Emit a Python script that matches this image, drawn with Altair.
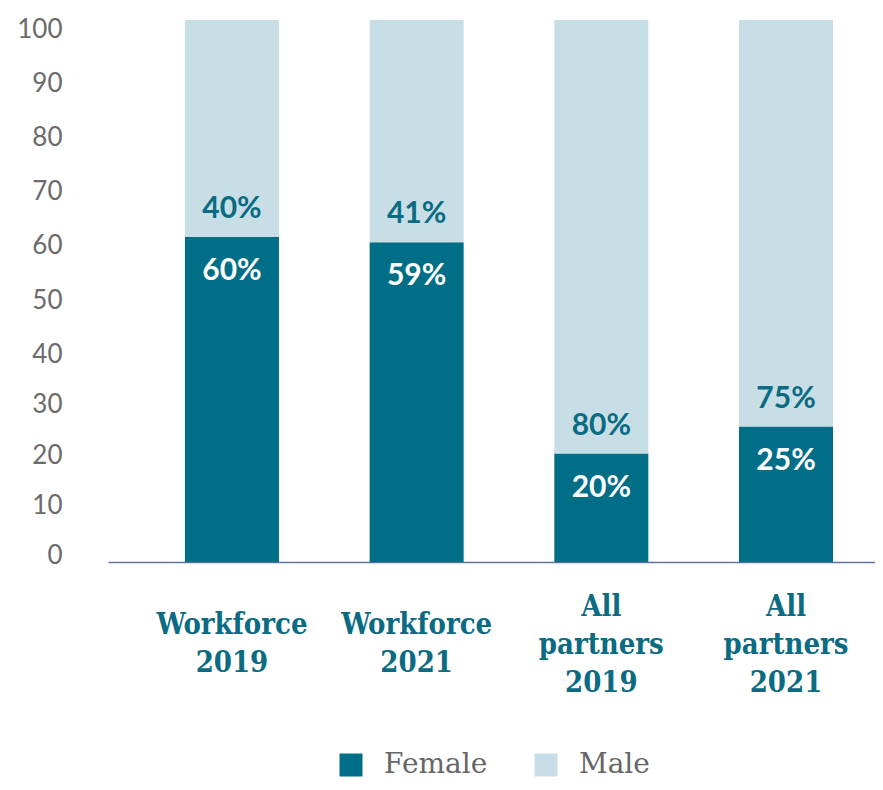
import altair as alt
import pandas as pd

categories = ["Workforce|2019", "Workforce|2021", "All|partners|2019", "All|partners|2021"]
female = [60, 59, 20, 25]
male = [40, 41, 80, 75]
genders = ["Female", "Male"]
colors = ["#006e87", "#c8dee6"]

rows = []
for c, f, m in zip(categories, female, male):
    rows.append({"cat": c, "gender": "Female", "value": f, "ord": 0})
    rows.append({"cat": c, "gender": "Male", "value": m, "ord": 1})
df = pd.DataFrame(rows)

lab = pd.DataFrame({
    "cat": categories,
    "female": female,
    "male": male,
    "ftxt": [f"{v}%" for v in female],
    "mtxt": [f"{v}%" for v in male],
})

xscale = alt.Scale(domain=categories, paddingInner=0.491, paddingOuter=0.322, align=0.647)
yscale = alt.Scale(domain=[0, 100], nice=False)

x = alt.X("cat:N", scale=xscale, sort=categories, title=None,
          axis=alt.Axis(labelAngle=0, labelExpr="split(datum.value, '|')",
                        labelFont="DejaVu Serif Condensed", labelFontWeight="bold",
                        labelFontSize=29, labelColor="#0a6b82", labelLineHeight=38,
                        labelBaseline="top",
                        labelPadding={"expr": "length(split(datum.value, '|')) == 3 ? 30 : 48"},
                        labelOverlap=False,
                        ticks=False, domainColor="#5f73a0", domainWidth=1.5))

bars = alt.Chart(df).mark_bar().encode(
    x=x,
    y=alt.Y("value:Q", stack="zero", scale=yscale, title=None,
            axis=alt.Axis(values=list(range(0, 101, 10)), domain=False, ticks=False,
                          grid=False, labelFont="Lato", labelFontWeight="normal",
                          labelFontSize=26, labelColor="#6b6b6b", labelPadding=46,
                          labelOffset={"expr": "min(9, -6.2 + 0.38 * datum.value)"})),
    color=alt.Color("gender:N", scale=alt.Scale(domain=genders, range=colors),
                    title=None,
                    legend=alt.Legend(orient="none", legendX=229, legendY=731,
                                      direction="horizontal", padding=0,
                                      symbolType="square", symbolSize=529,
                                      symbolStrokeWidth=0, labelFont="DejaVu Serif",
                                      labelFontSize=28, labelColor="#666666",
                                      columnPadding=44, labelOffset=19)),
    order=alt.Order("ord:Q"),
)

ftext = alt.Chart(lab).mark_text(font="Lato", fontWeight="bold", fontSize=30,
                                 color="white", baseline="alphabetic", dy=43).encode(
    x=alt.X("cat:N", scale=xscale, sort=categories),
    y=alt.Y("female:Q", scale=yscale),
    text="ftxt:N",
)
mtext = alt.Chart(lab).mark_text(font="Lato", fontWeight="bold", fontSize=30,
                                 color="#0a6b82", baseline="alphabetic", dy=-19).encode(
    x=alt.X("cat:N", scale=xscale, sort=categories),
    y=alt.Y("female:Q", scale=yscale),
    text="mtxt:N",
)

chart = alt.layer(bars, ftext, mtext).properties(
    width=767, height=542,
    autosize=alt.AutoSizeParams(type="none"),
    padding={"left": 100, "top": 12, "right": 0, "bottom": 220},
).configure_view(stroke=None)

chart.save("out.html", embed_options={"renderer": "svg", "actions": False})
